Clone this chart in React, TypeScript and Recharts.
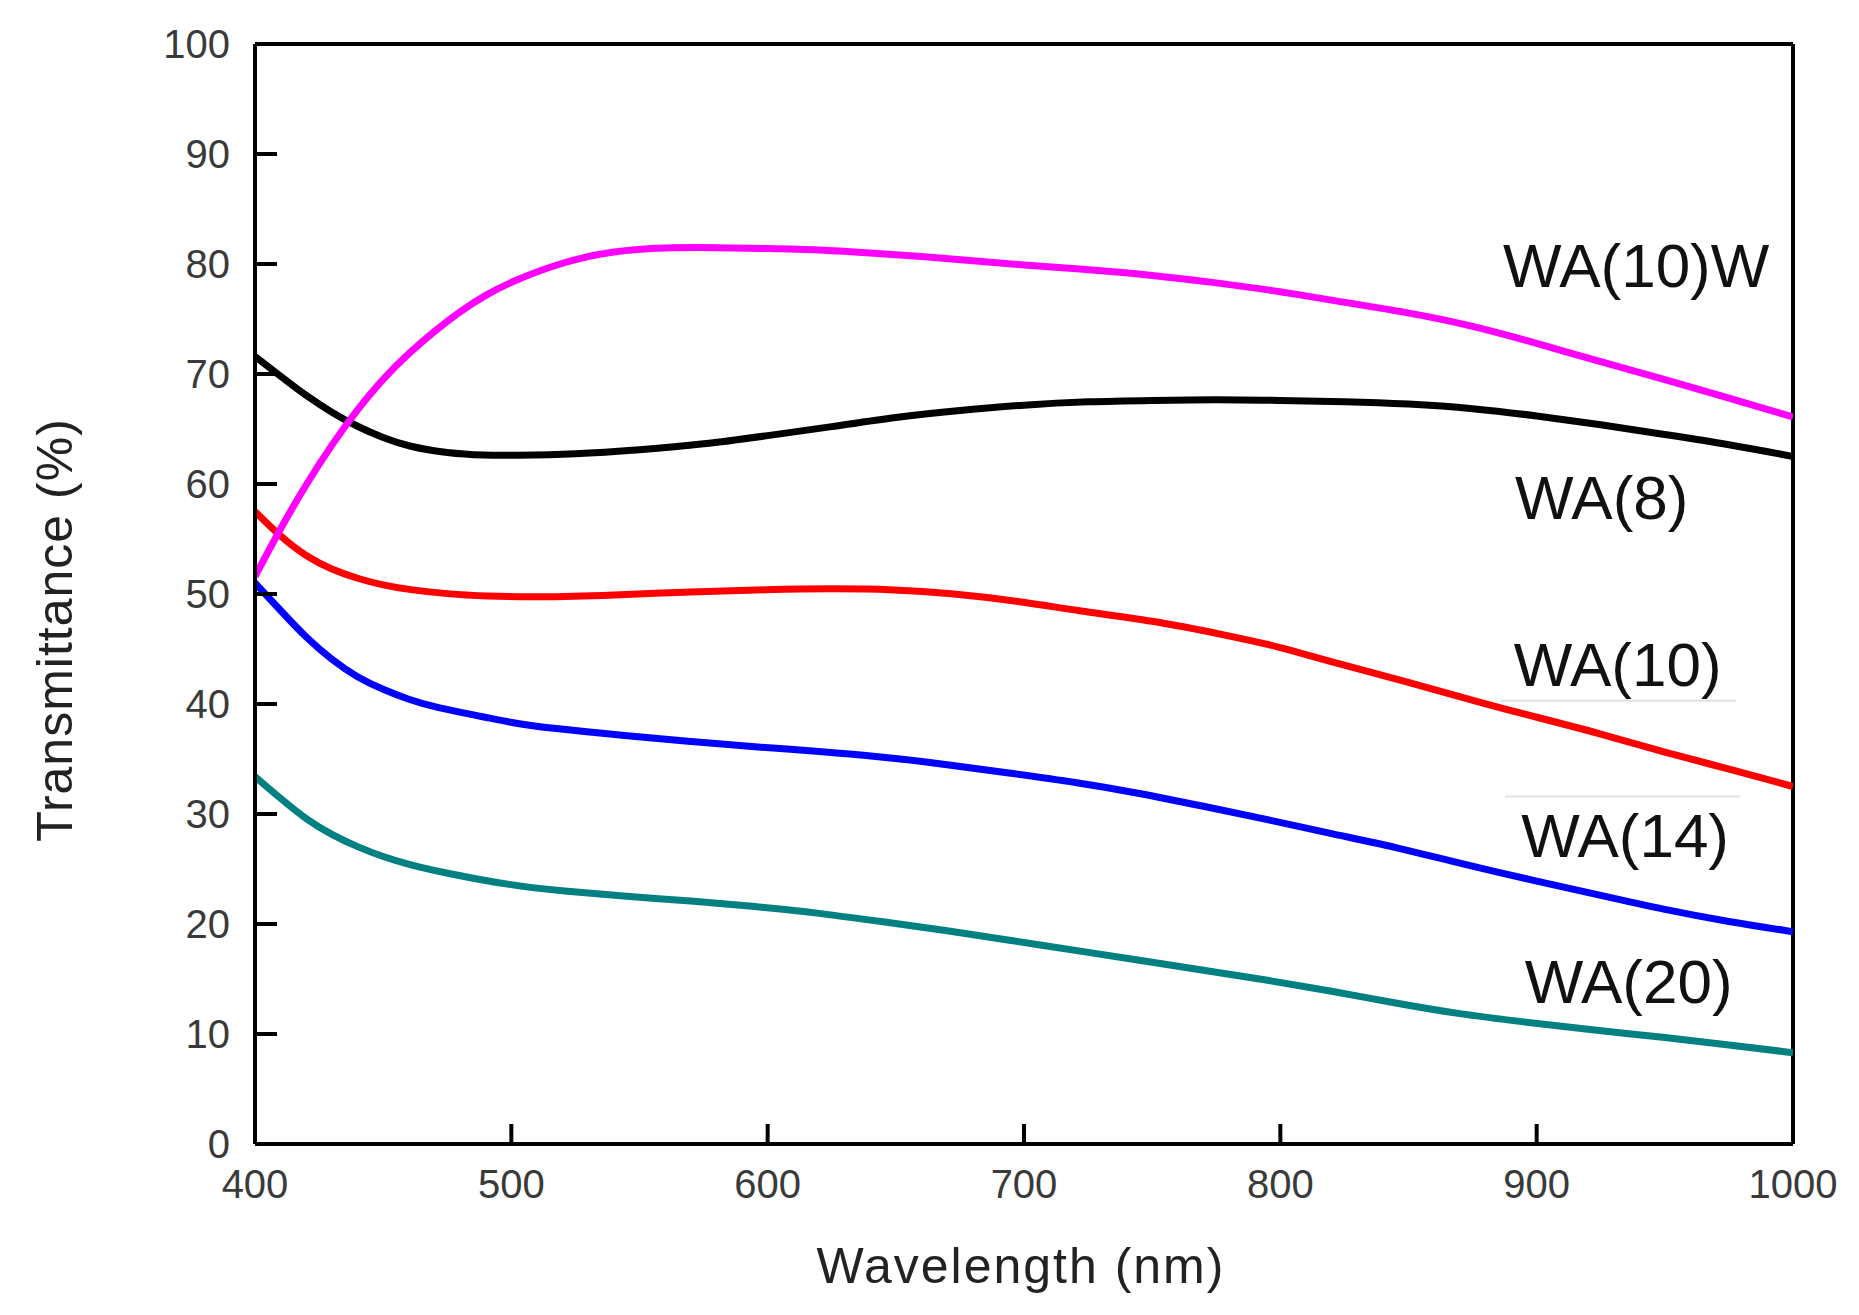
import { LineChart, Line, XAxis, YAxis, ReferenceLine, ReferenceDot } from 'recharts';

// WA(10)W
const wa10wNm = [400, 410, 420, 430, 440, 450, 460, 470, 480, 490, 500, 520, 540, 560, 580, 600, 620, 640, 660, 680, 700, 720, 750, 775, 800, 820, 850, 875, 900, 925, 950, 975, 1000];
const wa10wT = [51.6, 56.0, 60.0, 63.6, 66.8, 69.6, 71.9, 73.9, 75.7, 77.2, 78.4, 80.2, 81.2, 81.5, 81.5, 81.4, 81.3, 81.0, 80.7, 80.3, 79.9, 79.6, 79.0, 78.3, 77.5, 76.7, 75.6, 74.4, 72.8, 71.1, 69.5, 67.8, 66.1];

// WA(8)
const wa8Nm = [400, 410, 420, 430, 440, 450, 460, 475, 490, 500, 525, 550, 575, 600, 625, 650, 675, 700, 725, 750, 775, 800, 825, 850, 875, 900, 925, 950, 975, 1000];
const wa8T = [71.6, 69.8, 68.0, 66.5, 65.2, 64.2, 63.4, 62.8, 62.6, 62.6, 62.7, 63.1, 63.6, 64.4, 65.2, 66.1, 66.7, 67.2, 67.5, 67.6, 67.7, 67.6, 67.5, 67.3, 66.9, 66.2, 65.4, 64.5, 63.6, 62.5];

// WA(10)
const wa10Nm = [400, 410, 420, 430, 440, 450, 460, 475, 490, 510, 540, 570, 600, 625, 650, 670, 700, 720, 750, 780, 800, 820, 850, 880, 900, 925, 950, 975, 1000];
const wa10T = [57.5, 55.2, 53.4, 52.2, 51.4, 50.8, 50.4, 50.0, 49.8, 49.7, 49.9, 50.2, 50.4, 50.5, 50.4, 50.1, 49.3, 48.5, 47.6, 46.2, 45.2, 43.8, 42.0, 40.0, 38.8, 37.3, 35.6, 34.1, 32.5];

// WA(14)
const wa14Nm = [400, 410, 420, 430, 440, 450, 460, 470, 490, 500, 515, 545, 570, 595, 620, 645, 670, 695, 720, 745, 770, 795, 820, 845, 870, 900, 925, 950, 975, 1000];
const wa14T = [51.0, 48.5, 46.0, 44.0, 42.4, 41.3, 40.4, 39.7, 38.8, 38.3, 37.8, 37.1, 36.6, 36.1, 35.7, 35.2, 34.5, 33.7, 32.9, 31.9, 30.7, 29.5, 28.2, 27.0, 25.5, 23.9, 22.6, 21.3, 20.2, 19.3];

// WA(20)
const wa20Nm = [400, 410, 420, 430, 440, 450, 460, 475, 500, 520, 545, 570, 595, 620, 645, 670, 695, 720, 745, 770, 795, 820, 845, 870, 895, 920, 950, 975, 1000];
const wa20T = [33.4, 31.4, 29.5, 28.1, 27.0, 26.1, 25.4, 24.6, 23.5, 23.0, 22.5, 22.1, 21.6, 21.0, 20.2, 19.4, 18.5, 17.6, 16.7, 15.8, 14.9, 13.9, 12.8, 11.8, 11.1, 10.4, 9.7, 9.0, 8.3];

const xTicks = [400, 500, 600, 700, 800, 900, 1000];
const yTicks = [0, 10, 20, 30, 40, 50, 60, 70, 80, 90, 100];

const seriesNames = ['WA(20)', 'WA(14)', 'WA(10)', 'WA(8)', 'WA(10)W'];
const seriesColors = ['#008080', '#0000FF', '#FF0000', '#000000', '#FF00FF'];
// label anchor (wavelength, transmittance) for each series name
const labelNm = [935.9, 934.5, 931.6, 925.4, 938.8];
const labelT = [14.8, 28.1, 43.6, 58.8, 79.9];

const toPoints = (nm: number[], t: number[]) => nm.map((x, i) => ({ nm: x, t: t[i] }));
const seriesData = [
  toPoints(wa20Nm, wa20T),
  toPoints(wa14Nm, wa14T),
  toPoints(wa10Nm, wa10T),
  toPoints(wa8Nm, wa8T),
  toPoints(wa10wNm, wa10wT),
];

const font = '"Liberation Sans", Arial, sans-serif';
const tickStyle = { fill: '#3a3a3a', fontSize: 40, fontFamily: font };

export default function App() {
  return (
    <div style={{ width: 1845, height: 1300, background: '#fff', fontFamily: font }}>
      <LineChart width={1845} height={1300} margin={{ top: 36, right: 60, bottom: 14, left: 0 }}>
        <XAxis
          type="number"
          dataKey="nm"
          domain={[400, 1000]}
          ticks={xTicks}
          allowDataOverflow
          height={150}
          axisLine={{ stroke: '#000', strokeWidth: 4 }}
          tickLine={{ stroke: '#000', strokeWidth: 4 }}
          tickSize={-20}
          tickMargin={46}
          tick={tickStyle}
          label={({ viewBox }: any) => (
            <text
              x={viewBox.x + viewBox.width / 2 - 3}
              y={viewBox.y + 139}
              textAnchor="middle"
              fontSize={50}
              letterSpacing={2}
              fontFamily={font}
              fill="#222"
            >
              Wavelength (nm)
            </text>
          )}
        />
        <YAxis
          type="number"
          domain={[0, 100]}
          ticks={yTicks}
          allowDataOverflow
          width={247}
          axisLine={{ stroke: '#000', strokeWidth: 4 }}
          tickLine={{ stroke: '#000', strokeWidth: 4 }}
          tickSize={-22}
          tickMargin={47}
          tick={tickStyle}
          label={({ viewBox }: any) => {
            const x = viewBox.x + 64;
            const y = viewBox.y + viewBox.height / 2 + 36;
            return (
              <text
                x={x}
                y={y}
                transform={`rotate(-90, ${x}, ${y})`}
                textAnchor="middle"
                fontSize={50}
                letterSpacing={1}
                fontFamily={font}
                fill="#222"
              >
                Transmittance (%)
              </text>
            );
          }}
        />
        <ReferenceLine y={100} stroke="#000" strokeWidth={4} />
        <ReferenceLine x={1000} stroke="#000" strokeWidth={4} />
        <ReferenceLine segment={[{ x: 885.8, y: 40.3 }, { x: 977.8, y: 40.3 }]} stroke="#e2e2e2" strokeWidth={2} />
        <ReferenceLine segment={[{ x: 887.7, y: 31.6 }, { x: 979.4, y: 31.6 }]} stroke="#e2e2e2" strokeWidth={2} />
        {seriesData.map((d, i) => (
          <Line
            key={seriesNames[i]}
            data={d}
            dataKey="t"
            type="basis"
            stroke={seriesColors[i]}
            strokeWidth={7}
            dot={false}
            activeDot={false}
            isAnimationActive={false}
          />
        ))}
        {seriesNames.map((name, i) => (
          <ReferenceDot
            key={'lbl' + name}
            x={labelNm[i]}
            y={labelT[i]}
            r={0}
            fill="none"
            stroke="none"
            label={{ value: name, position: 'center', fontSize: 62, fill: '#111', fontFamily: font }}
          />
        ))}
      </LineChart>
    </div>
  );
}
